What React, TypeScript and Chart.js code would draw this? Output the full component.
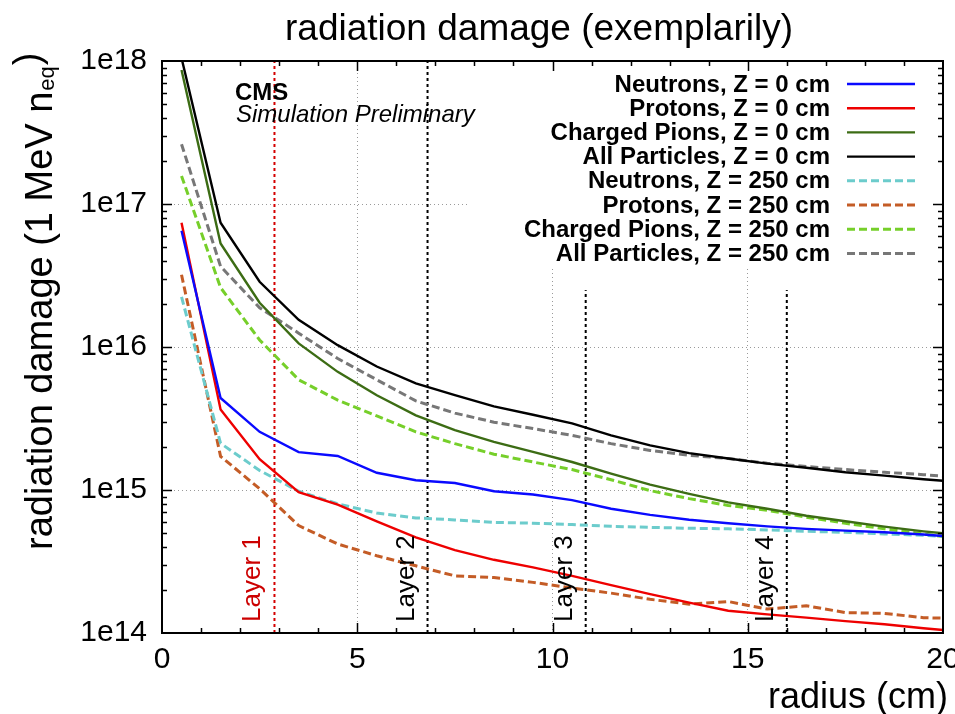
import { useEffect, useRef } from 'react';
import { Chart, registerables } from 'chart.js';

Chart.register(...registerables);

// ---- data ----
const radius = [0.5, 1.5, 2.5, 3.5, 4.5, 5.5, 6.5, 7.5, 8.5, 9.5, 10.5, 11.5, 12.5, 13.5, 14.5, 15.5, 16.5, 17.5, 18.5, 19.5, 20];

const neutronsZ0 = [6.5e16, 4.4e15, 2.55e15, 1.84e15, 1.73e15, 1.32e15, 1.17e15, 1.12e15, 9.8e14, 9.3e14, 8.5e14, 7.4e14, 6.7e14, 6.2e14, 5.85e14, 5.57e14, 5.35e14, 5.2e14, 5.06e14, 4.88e14, 4.77e14];
const protonsZ0 = [7.4e16, 3.66e15, 1.64e15, 9.66e14, 7.9e14, 6.04e14, 4.67e14, 3.8e14, 3.25e14, 2.88e14, 2.51e14, 2.16e14, 1.87e14, 1.63e14, 1.43e14, 1.35e14, 1.28e14, 1.21e14, 1.15e14, 1.08e14, 1.05e14];
const pionsZ0 = [8.65e17, 5.3e16, 2.04e16, 1.06e16, 6.7e15, 4.6e15, 3.33e15, 2.62e15, 2.17e15, 1.85e15, 1.57e15, 1.3e15, 1.09e15, 9.4e14, 8.2e14, 7.4e14, 6.6e14, 6.04e14, 5.55e14, 5.14e14, 4.98e14];
const allZ0 = [1.05e18, 7.4e16, 2.86e16, 1.55e16, 1.03e16, 7.3e15, 5.56e15, 4.6e15, 3.84e15, 3.36e15, 2.92e15, 2.41e15, 2.05e15, 1.81e15, 1.66e15, 1.53e15, 1.43e15, 1.33e15, 1.26e15, 1.19e15, 1.16e15];
const neutronsZ250 = [2.24e16, 2.12e15, 1.37e15, 9.8e14, 8.0e14, 6.9e14, 6.38e14, 6.18e14, 5.94e14, 5.86e14, 5.73e14, 5.57e14, 5.48e14, 5.4e14, 5.35e14, 5.26e14, 5.14e14, 5.06e14, 4.93e14, 4.82e14, 4.75e14];
const protonsZ250 = [3.2e16, 1.72e15, 1.02e15, 5.64e14, 4.19e14, 3.47e14, 2.95e14, 2.51e14, 2.44e14, 2.26e14, 2.06e14, 1.9e14, 1.72e14, 1.59e14, 1.66e14, 1.47e14, 1.55e14, 1.39e14, 1.37e14, 1.28e14, 1.27e14];
const pionsZ250 = [1.57e17, 2.6e16, 1.12e16, 5.9e15, 4.25e15, 3.3e15, 2.55e15, 2.11e15, 1.78e15, 1.57e15, 1.39e15, 1.18e15, 9.9e14, 8.7e14, 7.8e14, 7.2e14, 6.46e14, 5.85e14, 5.35e14, 4.93e14, 4.72e14];
const allZ250 = [2.62e17, 3.66e16, 1.88e16, 1.25e16, 8.3e15, 5.9e15, 4.2e15, 3.45e15, 2.98e15, 2.69e15, 2.41e15, 2.11e15, 1.89e15, 1.75e15, 1.66e15, 1.54e15, 1.46e15, 1.39e15, 1.33e15, 1.28e15, 1.25e15];

const seriesLabels = [
  'Neutrons, Z = 0 cm',
  'Protons, Z = 0 cm',
  'Charged Pions, Z = 0 cm',
  'All Particles, Z = 0 cm',
  'Neutrons, Z = 250 cm',
  'Protons, Z = 250 cm',
  'Charged Pions, Z = 250 cm',
  'All Particles, Z = 250 cm',
];
const seriesValues = [neutronsZ0, protonsZ0, pionsZ0, allZ0, neutronsZ250, protonsZ250, pionsZ250, allZ250];
const seriesColors = ['#0a0aff', '#ee0000', '#3c6c14', '#000000', '#6ccccc', '#c45c26', '#76cf2a', '#777777'];
const seriesDashed = [false, false, false, false, true, true, true, true];

const layerLabels = ['Layer 1', 'Layer 2', 'Layer 3', 'Layer 4'];
const layerRadius = [2.88, 6.8, 10.85, 16.0];
const layerTop = [1e18, 1e18, 2.5e16, 2.5e16];
const layerColors = ['#d40000', '#000000', '#000000', '#000000'];

const yTickValues = [1e14, 1e15, 1e16, 1e17, 1e18];
const titleText = 'radiation damage (exemplarily)';
const xTitleText = 'radius (cm)';
const yTitleMain = 'radiation damage (1 MeV n';
const yTitleSub = 'eq';
const yTitleEnd = ')';
const cmsText = 'CMS';
const cmsSubText = 'Simulation Preliminary';

const FAMILY = '"Liberation Sans", Arial, sans-serif';

const decorPlugin = {
  id: 'decor',
  beforeDraw(chart: any) {
    const ctx = chart.ctx;
    ctx.save();
    ctx.fillStyle = '#ffffff';
    ctx.fillRect(0, 0, chart.width, chart.height);
    ctx.restore();
  },
  afterDatasetsDraw(chart: any) {
    const ctx = chart.ctx;
    const ca = chart.chartArea;
    const xs = chart.scales.x;
    const ys = chart.scales.y;
    ctx.save();

    // legend box (opaque)
    ctx.fillStyle = '#ffffff';
    ctx.fillRect(468, ca.top, ca.right - 468, 268 - ca.top);

    // legend entries
    const seriesDs = chart.data.datasets.filter((d: any) => !d.isLayer);
    ctx.font = `bold 24px ${FAMILY}`;
    ctx.textAlign = 'right';
    ctx.textBaseline = 'middle';
    seriesDs.forEach((d: any, i: number) => {
      const y = 84 + i * 24.2;
      ctx.fillStyle = '#000';
      ctx.fillText(d.label, 830, y + 1);
      ctx.beginPath();
      ctx.strokeStyle = d.borderColor;
      ctx.lineWidth = d.borderWidth;
      ctx.setLineDash(d.borderDash || []);
      ctx.moveTo(847, y);
      ctx.lineTo(915, y);
      ctx.stroke();
    });
    ctx.setLineDash([]);

    // CMS label
    ctx.textAlign = 'left';
    ctx.textBaseline = 'alphabetic';
    ctx.fillStyle = '#000';
    ctx.font = `bold 24px ${FAMILY}`;
    ctx.fillText(cmsText, 235, 100);
    ctx.font = `italic 24px ${FAMILY}`;
    ctx.fillText(cmsSubText, 236, 122);

    // layer labels
    ctx.font = `26px ${FAMILY}`;
    layerLabels.forEach((lab, i) => {
      const px = xs.getPixelForValue(layerRadius[i]);
      ctx.save();
      ctx.translate(px - 14, ca.bottom - 11);
      ctx.rotate(-Math.PI / 2);
      ctx.fillStyle = i === 0 ? '#cc0000' : '#000';
      ctx.fillText(lab, 0, 0);
      ctx.restore();
    });

    // frame
    ctx.strokeStyle = '#000';
    ctx.lineWidth = 2;
    ctx.strokeRect(ca.left, ca.top, ca.right - ca.left, ca.bottom - ca.top);

    // inward ticks
    ctx.lineWidth = 1.5;
    ctx.beginPath();
    for (let v = 1; v < 20; v++) {
      const len = v % 5 === 0 ? 10 : 5;
      const px = Math.round(xs.getPixelForValue(v)) + 0.5;
      ctx.moveTo(px, ca.bottom);
      ctx.lineTo(px, ca.bottom - len);
      ctx.moveTo(px, ca.top);
      ctx.lineTo(px, ca.top + len);
    }
    for (let e = 14; e < 18; e++) {
      for (let m = 1; m <= 9; m++) {
        const v = m * Math.pow(10, e);
        if (m === 1 && e === 14) continue;
        const len = m === 1 ? 10 : 5;
        const py = Math.round(ys.getPixelForValue(v)) + 0.5;
        ctx.moveTo(ca.left, py);
        ctx.lineTo(ca.left + len, py);
        ctx.moveTo(ca.right, py);
        ctx.lineTo(ca.right - len, py);
      }
    }
    ctx.stroke();

    // chart title
    ctx.fillStyle = '#000';
    ctx.font = `37px ${FAMILY}`;
    ctx.textAlign = 'center';
    ctx.textBaseline = 'alphabetic';
    ctx.fillText(titleText, 539, 40);

    // x axis title
    ctx.font = `36px ${FAMILY}`;
    ctx.textAlign = 'right';
    ctx.fillText(xTitleText, 948, 708);

    // y axis title with subscript
    ctx.save();
    ctx.translate(52, 550);
    ctx.rotate(-Math.PI / 2);
    ctx.textAlign = 'left';
    ctx.font = `38px ${FAMILY}`;
    ctx.fillText(yTitleMain, 0, 0);
    const w1 = ctx.measureText(yTitleMain).width;
    ctx.font = `22px ${FAMILY}`;
    ctx.fillText(yTitleSub, w1 + 1, 2);
    const w2 = ctx.measureText(yTitleSub).width;
    ctx.font = `38px ${FAMILY}`;
    ctx.fillText(yTitleEnd, w1 + w2 + 2, -12);
    ctx.restore();

    ctx.restore();
  },
};

export default function App() {
  const ref = useRef<HTMLCanvasElement | null>(null);
  useEffect(() => {
    if (!ref.current) return;
    const datasets: any[] = seriesLabels.map((label, i) => ({
      label,
      data: radius.map((r, j) => ({ x: r, y: seriesValues[i][j] })),
      borderColor: seriesColors[i],
      backgroundColor: seriesColors[i],
      borderWidth: seriesDashed[i] ? 3 : 2.4,
      borderDash: seriesDashed[i] ? [8, 4] : [],
      pointRadius: 0,
      tension: 0,
      fill: false,
    }));
    layerLabels.forEach((label, i) => {
      datasets.push({
        label,
        isLayer: true,
        data: [
          { x: layerRadius[i], y: 1e14 },
          { x: layerRadius[i], y: layerTop[i] },
        ],
        borderColor: layerColors[i],
        borderWidth: 2,
        borderDash: [3, 3],
        pointRadius: 0,
        fill: false,
      });
    });
    const chart = new Chart(ref.current, {
      type: 'line',
      data: { datasets },
      options: {
        animation: false,
        responsive: false,
        layout: { padding: { top: 61, right: 12, left: 0, bottom: 0 } },
        plugins: {
          legend: { display: false },
          title: { display: false },
          tooltip: { enabled: false },
        },
        scales: {
          x: {
            type: 'linear',
            min: 0,
            max: 20,
            ticks: {
              stepSize: 5,
              padding: 9,
              color: '#000',
              font: { family: FAMILY, size: 30 },
              maxRotation: 0,
            },
            grid: { drawTicks: false, color: '#9a9a9a', lineWidth: 1 },
            border: { display: false, dash: [1, 3] },
            afterFit: (s: any) => {
              s.height = 81;
              s.paddingLeft = 0;
              s.paddingRight = 0;
            },
          },
          y: {
            type: 'logarithmic',
            min: 1e14,
            max: 1e18,
            afterBuildTicks: (s: any) => {
              s.ticks = yTickValues.map((v) => ({ value: v }));
            },
            ticks: {
              padding: 15,
              color: '#000',
              font: { family: FAMILY, size: 30 },
              callback: (v: any) => '1e' + Math.round(Math.log10(Number(v))),
            },
            grid: { drawTicks: false, color: '#9a9a9a', lineWidth: 1 },
            border: { display: false, dash: [1, 3] },
            afterFit: (s: any) => {
              s.width = 162;
              s.paddingTop = 0;
              s.paddingBottom = 0;
            },
          },
        },
      } as any,
      plugins: [decorPlugin],
    });
    return () => chart.destroy();
  }, []);
  return (
    <div style={{ position: 'absolute', left: 0, top: 0, width: 955, height: 714 }}>
      <canvas ref={ref} width={955} height={714} />
    </div>
  );
}
